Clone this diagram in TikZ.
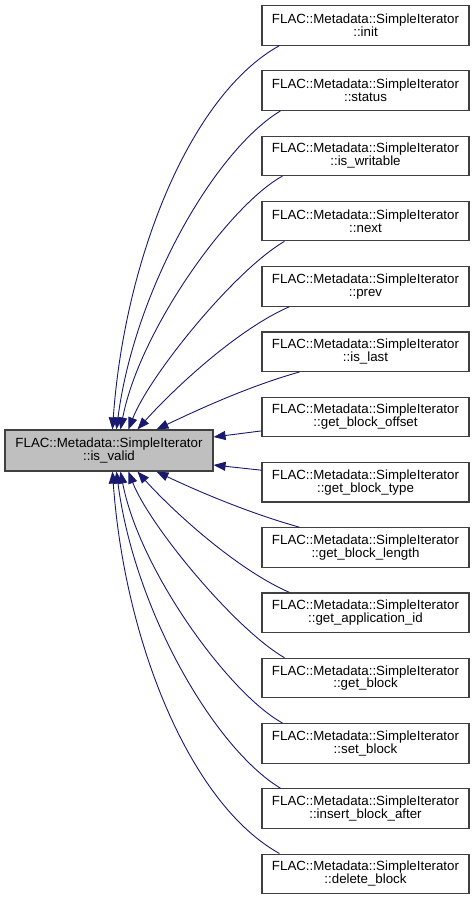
\documentclass[tikz,border=0pt]{standalone}
\usepackage{fontspec}
\setmainfont{Liberation Sans}
\usetikzlibrary{arrows.meta}
\definecolor{edgeblue}{HTML}{191970}
\definecolor{selgray}{HTML}{BFBFBF}
\tikzstyle{fcall}=[rectangle,draw=black!75,line width=1.1pt,minimum width=207pt,minimum height=39.5pt,inner sep=0pt,align=center,font=\fontsize{13.3}{12.8}\selectfont]
\tikzstyle{fsel}=[fcall,fill=selgray,minimum width=208pt,minimum height=41pt]
\tikzstyle{cgraph}=[-{Triangle[length=12pt,width=9pt]}, draw=edgeblue, line width=0.9pt]

\begin{document}
\begin{tikzpicture}[x=1pt,y=-1pt,cgraph]
\useasboundingbox (0,0) rectangle (475,900);
\node[fsel] (valid) at (109,450.5) {FLAC::Metadata::SimpleIterator\\::is\_valid};
\node[fcall] (init) at (365.5,25.3) {FLAC::Metadata::SimpleIterator\\::init};
\node[fcall] (status) at (365.5,90.6) {FLAC::Metadata::SimpleIterator\\::status};
\node[fcall] (writable) at (365.5,155.8) {FLAC::Metadata::SimpleIterator\\::is\_writable};
\node[fcall] (next) at (365.5,221.1) {FLAC::Metadata::SimpleIterator\\::next};
\node[fcall] (prev) at (365.5,286.4) {FLAC::Metadata::SimpleIterator\\::prev};
\node[fcall] (last) at (365.5,351.7) {FLAC::Metadata::SimpleIterator\\::is\_last};
\node[fcall] (offset) at (365.5,416.9) {FLAC::Metadata::SimpleIterator\\::get\_block\_offset};
\node[fcall] (btype) at (365.5,482.2) {FLAC::Metadata::SimpleIterator\\::get\_block\_type};
\node[fcall] (blength) at (365.5,547.5) {FLAC::Metadata::SimpleIterator\\::get\_block\_length};
\node[fcall] (appid) at (365.5,612.7) {FLAC::Metadata::SimpleIterator\\::get\_application\_id};
\node[fcall] (getblk) at (365.5,678.0) {FLAC::Metadata::SimpleIterator\\::get\_block};
\node[fcall] (setblk) at (365.5,743.3) {FLAC::Metadata::SimpleIterator\\::set\_block};
\node[fcall] (insert) at (365.5,808.5) {FLAC::Metadata::SimpleIterator\\::insert\_block\_after};
\node[fcall] (delblk) at (365.5,873.8) {FLAC::Metadata::SimpleIterator\\::delete\_block};
\draw ([xshift=18]init.south west) .. controls +(-90,50) and +(12,-169) .. ([xshift=108]valid.north west);
\draw ([xshift=19]status.south west) .. controls +(-66,40) and +(18,-139) .. ([xshift=112]valid.north west);
\draw ([xshift=21]writable.south west) .. controls +(-53,29) and +(19,-99) .. ([xshift=116]valid.north west);
\draw ([xshift=23]next.south west) .. controls +(-50,29) and +(21,-54) .. ([xshift=124]valid.north west);
\draw ([xshift=28]prev.south west) .. controls +(-55,24) and +(32,-36) .. ([xshift=133]valid.north west);
\draw ([xshift=38]last.south west) .. controls +(-50,14) and +(42,-20) .. ([xshift=152]valid.north west);
\draw ([yshift=-14]offset.west) -- ([yshift=13.5]valid.east);
\draw ([yshift=12]btype.west) -- ([yshift=-14.5]valid.east);
\draw ([xshift=38]blength.north west) .. controls +(-50,-14) and +(42,20) .. ([xshift=152]valid.south west);
\draw ([xshift=28]appid.north west) .. controls +(-55,-24) and +(32,36) .. ([xshift=133]valid.south west);
\draw ([xshift=23]getblk.north west) .. controls +(-50,-29) and +(21,54) .. ([xshift=124]valid.south west);
\draw ([xshift=21]setblk.north west) .. controls +(-53,-29) and +(19,99) .. ([xshift=116]valid.south west);
\draw ([xshift=19]insert.north west) .. controls +(-66,-40) and +(18,139) .. ([xshift=112]valid.south west);
\draw ([xshift=18]delblk.north west) .. controls +(-90,-50) and +(12,169) .. ([xshift=108]valid.south west);
\end{tikzpicture}
\end{document}
